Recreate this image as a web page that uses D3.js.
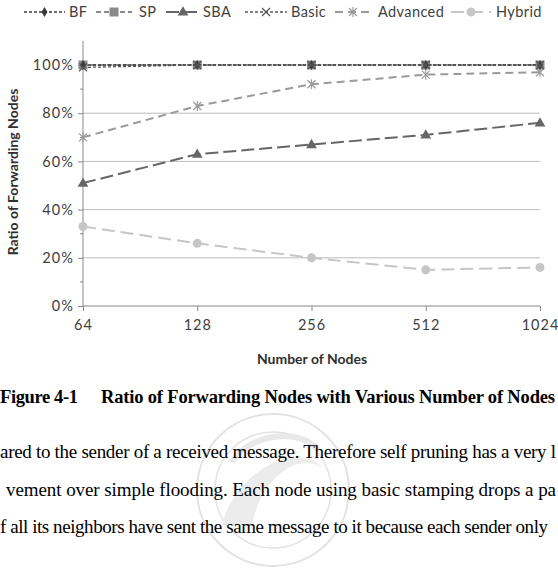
<!DOCTYPE html>
<html>
<head>
<meta charset="utf-8">
<script src="https://cdn.jsdelivr.net/npm/d3@7"></script>
<style>
html,body{margin:0;padding:0;background:#fff;overflow:hidden;}
svg{display:block;}
</style>
</head>
<body>
<svg id="chart" width="558" height="588"></svg>
<script>
// ---- data ----
const categories = ["64", "128", "256", "512", "1024"];
const seriesNames = ["BF", "SP", "SBA", "Basic", "Advanced", "Hybrid"];
const bfValues = [1.00, 1.00, 1.00, 1.00, 1.00];
const spValues = [1.00, 1.00, 1.00, 1.00, 1.00];
const sbaValues = [0.51, 0.63, 0.67, 0.71, 0.76];
const basicValues = [0.99, 1.00, 1.00, 1.00, 1.00];
const advancedValues = [0.70, 0.83, 0.92, 0.96, 0.97];
const hybridValues = [0.33, 0.26, 0.20, 0.15, 0.16];
const yTicks = [0, 0.2, 0.4, 0.6, 0.8, 1.0];
const yMinorTicks = [0.1, 0.3, 0.5, 0.7, 0.9];
const yTitle = "Ratio of Forwarding Nodes";
const xTitle = "Number of Nodes";
const captionNum = "Figure 4-1";
const captionText = "Ratio of Forwarding Nodes with Various Number of Nodes";
const bodyLines = [
  "ared to the sender of a received message. Therefore self pruning has a very l",
  "vement over simple flooding. Each node using basic stamping drops a pa",
  "f all its neighbors have sent the same message to it because each sender only"
];

// ---- styles ----
const styles = {
  BF:       {values: bfValues,       color: "#3a3a3a", dash: "3,2",  width: 1.5, marker: "diamond"},
  SP:       {values: spValues,       color: "#8a8a8a", dash: "5,3",  width: 2,   marker: "square"},
  SBA:      {values: sbaValues,      color: "#666666", dash: "13,5", width: 2,   marker: "triangle"},
  Basic:    {values: basicValues,    color: "#555555", dash: "3,2",  width: 1.3, marker: "x"},
  Advanced: {values: advancedValues, color: "#9a9a9a", dash: "8,5",  width: 2,   marker: "asterisk"},
  Hybrid:   {values: hybridValues,   color: "#c6c6c6", dash: "13,6", width: 2,   marker: "circle"}
};
const drawOrder = ["Hybrid", "SBA", "Advanced", "SP", "BF", "Basic"];

const svg = d3.select("#chart");
const font = "Lato, 'Open Sans', sans-serif";

const x = d3.scalePoint().domain(categories).range([83, 540]);
const y = d3.scaleLinear().domain([0, 1]).range([306, 65]);

// watermark seal
const wm = svg.append("g").attr("fill", "none").attr("stroke", "#e2e2e2");
wm.append("circle").attr("cx", 273).attr("cy", 490).attr("r", 76).attr("stroke-width", 2);
wm.append("circle").attr("cx", 273).attr("cy", 490).attr("r", 58).attr("stroke-width", 1.5);
wm.append("path").attr("d", "M222,525 C235,470 300,440 322,468 C300,452 262,475 252,525 Z")
  .attr("fill", "#ececec").attr("stroke", "none");
wm.append("path").attr("d", "M232,462 C252,432 300,428 318,450")
  .attr("stroke", "#e8e8e8").attr("stroke-width", 6);

// gridlines
svg.append("g").selectAll("line").data(yTicks.filter(d => d > 0)).join("line")
  .attr("x1", 83).attr("x2", 540)
  .attr("y1", d => y(d)).attr("y2", d => y(d))
  .attr("stroke", "#bdbdbd").attr("stroke-width", 1);

// y axis
const yAxis = svg.append("g").attr("transform", "translate(83,0)")
  .call(d3.axisLeft(y).tickValues(yTicks).tickFormat(d3.format(".0%")).tickSize(5).tickPadding(4));
yAxis.select(".domain").attr("stroke", "#888").attr("d", `M0,${y(1.1)}V${y(0)}`);
yAxis.selectAll(".tick line").attr("stroke", "#888");
yAxis.selectAll(".tick text").attr("font-family", font).attr("font-size", 14.5)
  .attr("fill", "#404040").attr("letter-spacing", "1.1px");
svg.append("g").selectAll("line").data(yMinorTicks).join("line")
  .attr("x1", 80).attr("x2", 83).attr("y1", d => y(d)).attr("y2", d => y(d))
  .attr("stroke", "#888");

// x axis
const xAxis = svg.append("g").attr("transform", "translate(0,306)")
  .call(d3.axisBottom(x).tickSize(5).tickPadding(9));
xAxis.select(".domain").attr("stroke", "#888").attr("d", "M83,0H540");
xAxis.selectAll(".tick line").attr("stroke", "#888");
xAxis.selectAll(".tick text").attr("font-family", font).attr("font-size", 14.5)
  .attr("fill", "#404040").attr("letter-spacing", "1px");

// titles
svg.append("text").attr("transform", "translate(18,172) rotate(-90)")
  .attr("text-anchor", "middle").attr("font-family", font).attr("font-size", 14)
  .attr("font-weight", "bold").attr("fill", "#303030").text(yTitle);
svg.append("text").attr("x", 312).attr("y", 364)
  .attr("text-anchor", "middle").attr("font-family", font).attr("font-size", 14)
  .attr("font-weight", "bold").attr("fill", "#303030").text(xTitle);

// markers
function drawMarker(g, type, cx, cy, color) {
  if (type === "diamond") {
    g.append("path").attr("d", d3.symbol(d3.symbolDiamond, 30)()).attr("transform", `translate(${cx},${cy})`).attr("fill", color);
  } else if (type === "square") {
    g.append("rect").attr("x", cx - 4.5).attr("y", cy - 4.5).attr("width", 9).attr("height", 9).attr("fill", color);
  } else if (type === "triangle") {
    g.append("path").attr("d", d3.symbol(d3.symbolTriangle, 50)()).attr("transform", `translate(${cx},${cy + 0.5})`).attr("fill", color);
  } else if (type === "x") {
    g.append("path").attr("d", `M${cx-4},${cy-4}L${cx+4},${cy+4}M${cx-4},${cy+4}L${cx+4},${cy-4}`)
      .attr("stroke", color).attr("stroke-width", 1.2).attr("fill", "none");
  } else if (type === "asterisk") {
    g.append("path").attr("d", `M${cx-4},${cy-4}L${cx+4},${cy+4}M${cx-4},${cy+4}L${cx+4},${cy-4}M${cx},${cy-5}V${cy+5}`)
      .attr("stroke", color).attr("stroke-width", 1.2).attr("fill", "none");
  } else if (type === "circle") {
    g.append("circle").attr("cx", cx).attr("cy", cy).attr("r", 4.5).attr("fill", color);
  }
}

const line = d3.line().x((d, i) => x(categories[i])).y(d => y(d));
drawOrder.forEach(name => {
  const s = styles[name];
  const g = svg.append("g");
  g.append("path").datum(s.values).attr("d", line)
    .attr("fill", "none").attr("stroke", s.color).attr("stroke-width", s.width)
    .attr("stroke-dasharray", s.dash);
  s.values.forEach((v, i) => drawMarker(g, s.marker, x(categories[i]), y(v), s.color));
});

// legend
const legendPos = {BF: [24, 65, 69], SP: [96, 132, 139], SBA: [166, 200, 203], Basic: [245, 287, 291], Advanced: [335, 371, 378], Hybrid: [451, 491, 496]};
const lg = svg.append("g");
seriesNames.forEach(name => {
  const s = styles[name];
  const [a, b, t] = legendPos[name];
  lg.append("line").attr("x1", a).attr("x2", b).attr("y1", 12).attr("y2", 12)
    .attr("stroke", s.color).attr("stroke-width", s.width).attr("stroke-dasharray", s.dash);
  drawMarker(lg, s.marker, (a + b) / 2, 12, s.color);
  lg.append("text").attr("x", t).attr("y", 17).attr("font-family", font).attr("font-size", 14.5)
    .attr("fill", "#404040").attr("letter-spacing", "0.4px").text(name);
});

// caption
const serif = "Liberation Serif";
svg.append("text").attr("x", 0).attr("y", 403).attr("font-family", serif).attr("font-size", 18.5)
  .attr("font-weight", "bold").attr("fill", "#000")
  .attr("textLength", 78).attr("lengthAdjust", "spacing").text(captionNum);
svg.append("text").attr("x", 101).attr("y", 403).attr("font-family", serif).attr("font-size", 18.5)
  .attr("font-weight", "bold").attr("fill", "#000")
  .attr("textLength", 454).attr("lengthAdjust", "spacing").text(captionText);

// body text
const bodyX = [0, 6, 0];
const bodyY = [458, 496, 533];
const bodyLen = [556, 550, 548];
bodyLines.forEach((t, i) => {
  svg.append("text").attr("x", bodyX[i]).attr("y", bodyY[i]).attr("font-family", serif)
    .attr("font-size", 19).attr("fill", "#000")
    .attr("textLength", bodyLen[i]).attr("lengthAdjust", "spacing").text(t);
});
</script>
</body>
</html>
